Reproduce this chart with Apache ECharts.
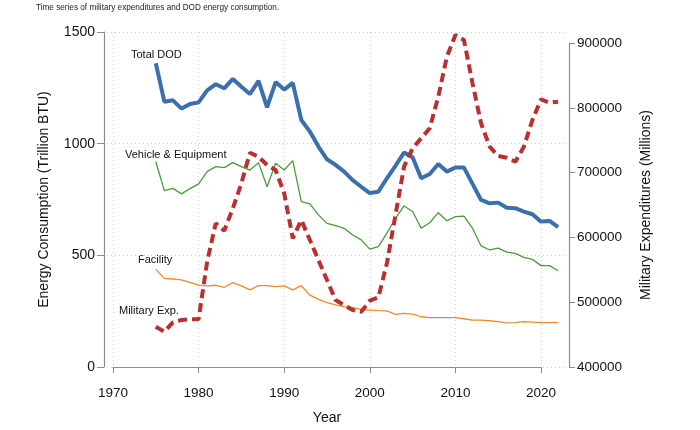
<!DOCTYPE html>
<html>
<head>
<meta charset="utf-8">
<script src="https://cdn.jsdelivr.net/npm/echarts@6/dist/echarts.min.js"></script>
<style>html,body{margin:0;padding:0;background:#fff;}#c{width:700px;height:430px;}</style>
</head>
<body>
<div id="c"></div>
<script>
const years = [1975,1976,1977,1978,1979,1980,1981,1982,1983,1984,1985,1986,1987,1988,1989,1990,1991,1992,1993,1994,1995,1996,1997,1998,1999,2000,2001,2002,2003,2004,2005,2006,2007,2008,2009,2010,2011,2012,2013,2014,2015,2016,2017,2018,2019,2020,2021,2022];
const totalDOD = [1360,1188,1194,1157,1178,1185,1239,1266,1248,1290,1255,1222,1281,1163,1276,1242,1272,1106,1054,987,930,905,875,837,807,779,785,845,901,960,939,845,864,909,875,893,893,820,748,733,736,713,711,696,684,651,654,626];
const vehicle = [919,790,800,775,799,820,875,897,893,915,897,882,915,807,912,882,924,740,730,681,643,633,621,591,569,528,539,599,666,721,696,621,646,691,655,673,676,621,542,524,532,514,509,491,482,454,454,431];
const facility = [437,397,394,390,379,367,363,366,357,378,363,345,364,364,360,363,345,364,322,303,288,278,270,266,258,255,252,251,236,240,237,225,221,221,221,221,216,210,210,207,203,198,199,203,201,199,199,199];
const militaryExp = [462200,454500,469000,472500,473600,473600,562500,621700,610300,645000,683500,730700,724500,711700,704000,668000,598600,626800,596000,565000,534300,503400,495700,488000,485300,502300,507500,560000,634600,709100,737500,752900,768400,817100,878800,912300,904600,837800,776000,740000,725600,723000,716800,740000,781200,813100,807900,809400];
const leftTicks = [0,500,1000,1500];
const rightTicks = [400000,500000,600000,700000,800000,900000];
const xTicks = [1970,1980,1990,2000,2010,2020];

const pair = (vals) => years.map((y,i)=>[y, vals[i]]);
const font = 'Liberation Sans, Arial, sans-serif';
const axisGray = '#8c8c8c';
const gridLine = {show:true, lineStyle:{color:'#cfcfcf', type:[1,3], width:1}};
const plain = v => String(v);

const chart = echarts.init(document.getElementById('c'), null, {renderer:'canvas'});
chart.setOption({
  animation:false,
  backgroundColor:'#fff',
  title:{text:'Time series of military expenditures and DOD energy consumption.', left:36, top:4, padding:0,
    textStyle:{fontSize:8.2, fontWeight:'normal', color:'#222', fontFamily:font}},
  grid:[
    {left:107, right:134, top:32, bottom:63},
    {left:107, right:134, top:43, bottom:63},
    {left:113, right:159, top:32, bottom:63}
  ],
  xAxis:[
    {gridIndex:0, type:'value', min:1969.3, max:2022.92, show:false},
    {gridIndex:1, type:'value', min:1969.3, max:2022.92, show:false},
    {gridIndex:2, type:'value', min:xTicks[0], max:xTicks[xTicks.length-1], interval:10, offset:10,
      name:'Year', nameLocation:'middle', nameGap:34,
      nameTextStyle:{fontSize:14, color:'#111', fontFamily:font},
      axisLine:{show:true, lineStyle:{color:axisGray, width:1.2}},
      axisTick:{show:true, length:6, inside:false, lineStyle:{color:axisGray}},
      axisLabel:{fontSize:13.5, color:'#111', fontFamily:font, margin:9, formatter:plain},
      splitLine:gridLine}
  ],
  yAxis:[
    {gridIndex:0, type:'value', min:leftTicks[0], max:leftTicks[leftTicks.length-1], interval:500, position:'left', offset:3,
      name:'Energy Consumption (Trillion BTU)', nameLocation:'middle', nameGap:53,
      nameTextStyle:{fontSize:14, color:'#111', fontFamily:font},
      axisLine:{show:true, lineStyle:{color:axisGray, width:1.2}},
      axisTick:{show:true, length:7, inside:false, lineStyle:{color:axisGray}},
      axisLabel:{fontSize:14, color:'#111', fontFamily:font, margin:9, formatter:plain},
      splitLine:gridLine},
    {gridIndex:1, type:'value', min:rightTicks[0], max:rightTicks[rightTicks.length-1], interval:100000, position:'right', offset:3,
      name:'Military Expenditures (Millions)', nameLocation:'middle', nameGap:70, nameRotate:90,
      nameTextStyle:{fontSize:14, color:'#111', fontFamily:font},
      axisLine:{show:true, lineStyle:{color:axisGray, width:1.2}},
      axisTick:{show:true, length:6, inside:false, lineStyle:{color:axisGray}},
      axisLabel:{fontSize:13.5, color:'#111', fontFamily:font, margin:8, formatter:plain},
      splitLine:{show:false}},
    {gridIndex:2, type:'value', min:0, max:1, show:false}
  ],
  series:[
    {name:'Facility', type:'line', xAxisIndex:0, yAxisIndex:0, data:pair(facility), symbol:'none',
      lineStyle:{color:'#ef8a2c', width:1.3}},
    {name:'Vehicle & Equipment', type:'line', xAxisIndex:0, yAxisIndex:0, data:pair(vehicle), symbol:'none',
      lineStyle:{color:'#4c9a3c', width:1.3}},
    {name:'Total DOD', type:'line', xAxisIndex:0, yAxisIndex:0, data:pair(totalDOD), symbol:'none',
      lineStyle:{color:'#3a70ad', width:4}},
    {name:'Military Exp.', type:'line', xAxisIndex:1, yAxisIndex:1, data:pair(militaryExp), symbol:'none', clip:false,
      lineStyle:{color:'#b9302f', width:4, type:[9,5]}}
  ],
  graphic:[
    {type:'text', left:131, top:49, style:{text:'Total DOD', fontSize:11, fill:'#111', fontFamily:font}},
    {type:'text', left:125, top:149, style:{text:'Vehicle & Equipment', fontSize:11, fill:'#111', fontFamily:font}},
    {type:'text', left:138, top:254, style:{text:'Facility', fontSize:11, fill:'#111', fontFamily:font}},
    {type:'text', left:119, top:305, style:{text:'Military Exp.', fontSize:11, fill:'#111', fontFamily:font}}
  ]
});
</script>
</body>
</html>
